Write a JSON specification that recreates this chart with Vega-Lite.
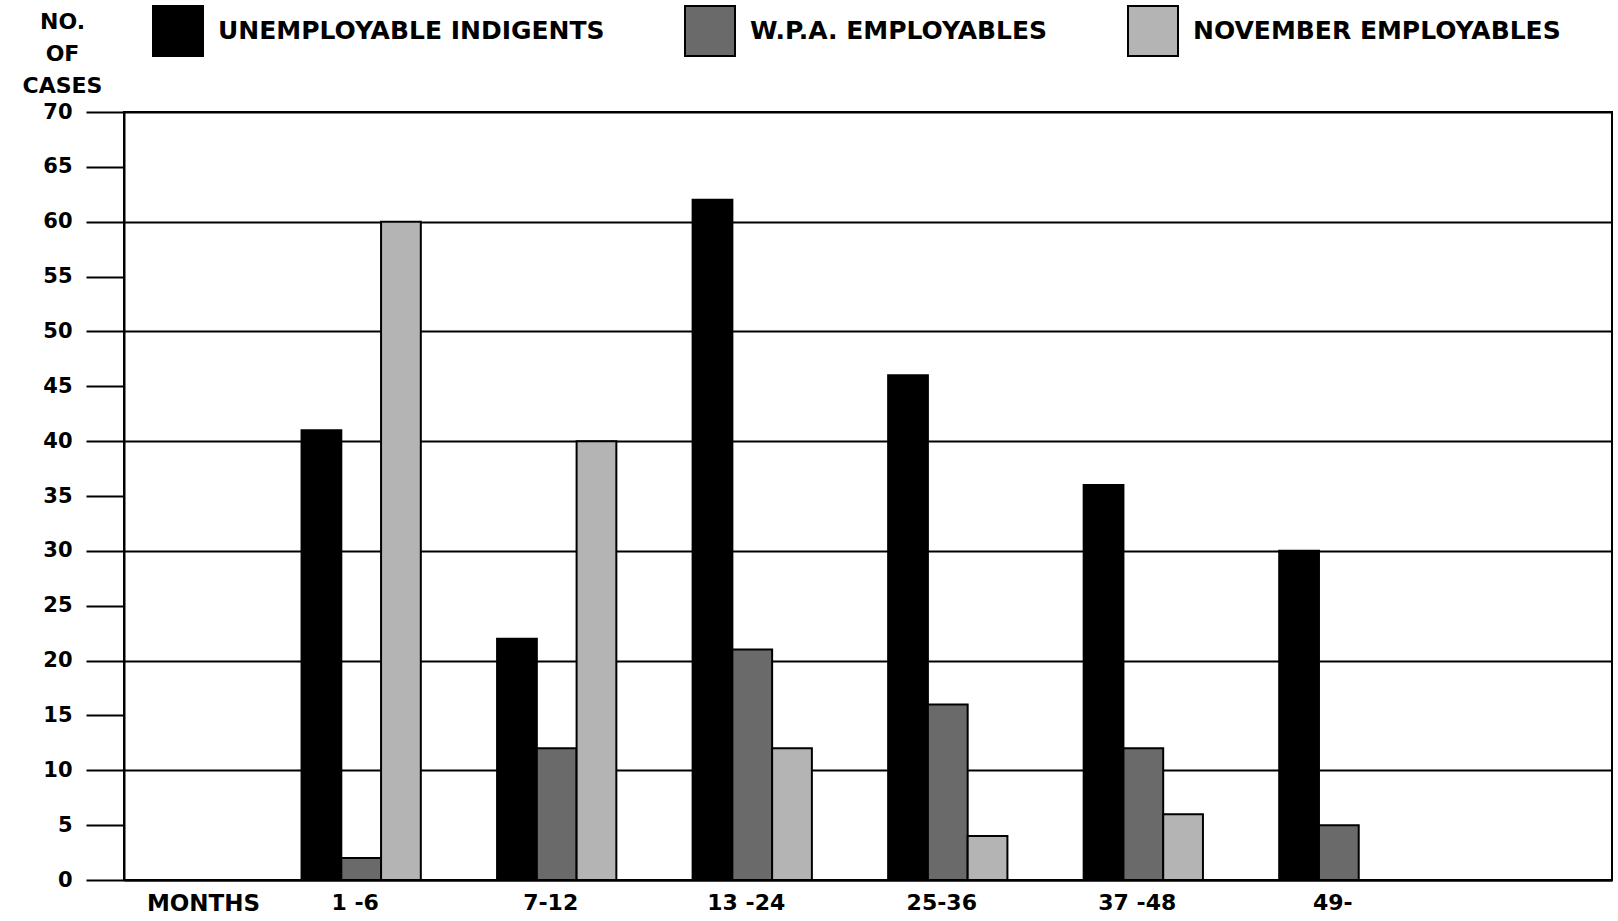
{
  "$schema": "https://vega.github.io/schema/vega-lite/v6.json",
  "width": 1488,
  "height": 768,
  "autosize": {"type": "none"},
  "padding": {"left": 124, "top": 112, "right": 6, "bottom": 41},
  "background": "white",
  "config": {"view": {"stroke": "black", "strokeWidth": 2}, "font": "DejaVu Sans"},
  "data": {"values": [
    {"months": "1 -6", "group": "UNEMPLOYABLE INDIGENTS", "cases": 41},
    {"months": "1 -6", "group": "W.P.A. EMPLOYABLES", "cases": 2},
    {"months": "1 -6", "group": "NOVEMBER EMPLOYABLES", "cases": 60},
    {"months": "7-12", "group": "UNEMPLOYABLE INDIGENTS", "cases": 22},
    {"months": "7-12", "group": "W.P.A. EMPLOYABLES", "cases": 12},
    {"months": "7-12", "group": "NOVEMBER EMPLOYABLES", "cases": 40},
    {"months": "13 -24", "group": "UNEMPLOYABLE INDIGENTS", "cases": 62},
    {"months": "13 -24", "group": "W.P.A. EMPLOYABLES", "cases": 21},
    {"months": "13 -24", "group": "NOVEMBER EMPLOYABLES", "cases": 12},
    {"months": "25-36", "group": "UNEMPLOYABLE INDIGENTS", "cases": 46},
    {"months": "25-36", "group": "W.P.A. EMPLOYABLES", "cases": 16},
    {"months": "25-36", "group": "NOVEMBER EMPLOYABLES", "cases": 4},
    {"months": "37 -48", "group": "UNEMPLOYABLE INDIGENTS", "cases": 36},
    {"months": "37 -48", "group": "W.P.A. EMPLOYABLES", "cases": 12},
    {"months": "37 -48", "group": "NOVEMBER EMPLOYABLES", "cases": 6},
    {"months": "49-", "group": "UNEMPLOYABLE INDIGENTS", "cases": 30},
    {"months": "49-", "group": "W.P.A. EMPLOYABLES", "cases": 5}
  ]},
  "mark": {"type": "bar", "stroke": "black", "strokeWidth": 2},
  "encoding": {
    "x": {
      "field": "months", "type": "nominal",
      "scale": {"domain": ["1 -6", "7-12", "13 -24", "25-36", "37 -48", "49-"], "paddingInner": 0.39, "paddingOuter": 1.144, "align": 0.454},
      "axis": {
        "title": "MONTHS", "titleX": 79, "titleY": 23, "titleAlign": "center", "titleBaseline": "middle", "titleAnchor": "start",
        "titleFontSize": 23, "titleFontWeight": "bold", "titleColor": "black",
        "labelAngle": 0, "labelFontSize": 22, "labelFontWeight": "bold", "labelColor": "black", "labelPadding": 12, "labelOffset": -6,
        "ticks": false, "domain": true, "domainColor": "black", "domainWidth": 2
      }
    },
    "xOffset": {
      "field": "group", "type": "nominal",
      "scale": {"domain": ["UNEMPLOYABLE INDIGENTS", "W.P.A. EMPLOYABLES", "NOVEMBER EMPLOYABLES"], "paddingInner": 0, "paddingOuter": 0}
    },
    "y": {
      "field": "cases", "type": "quantitative",
      "scale": {"domain": [0, 70], "nice": false},
      "axis": {
        "title": ["NO.", "OF", "CASES"], "titleAngle": 0, "titleX": -62, "titleY": -84, "titleAlign": "center", "titleBaseline": "alphabetic",
        "titleLineHeight": 32, "titleFontSize": 22, "titleFontWeight": "bold", "titleColor": "black",
        "values": [0, 5, 10, 15, 20, 25, 30, 35, 40, 45, 50, 55, 60, 65, 70],
        "tickSize": 38, "tickWidth": 2, "tickColor": "black",
        "domainColor": "black", "domainWidth": 2,
        "labelFontSize": 21, "labelFontWeight": "bold", "labelColor": "black", "labelPadding": 14, "labelFlush": false, "labelOverlap": false,
        "grid": true, "gridColor": "black", "gridWidth": 2,
        "gridOpacity": {"condition": {"test": "datum.value % 10 === 0", "value": 1}, "value": 0}
      }
    },
    "color": {
      "field": "group", "type": "nominal",
      "scale": {"domain": ["UNEMPLOYABLE INDIGENTS", "W.P.A. EMPLOYABLES", "NOVEMBER EMPLOYABLES"], "range": ["#000000", "#6a6a6a", "#b4b4b4"]},
      "legend": {
        "orient": "none", "legendX": 28, "legendY": -107, "direction": "horizontal", "title": null,
        "symbolType": "square", "symbolSize": 2500, "symbolStrokeColor": "black", "symbolStrokeWidth": 2, "symbolOpacity": 1,
        "labelFontSize": 25, "labelFontWeight": "bold", "labelColor": "black", "labelOffset": 14, "labelLimit": 1000,
        "columnPadding": 76
      }
    }
  }
}
